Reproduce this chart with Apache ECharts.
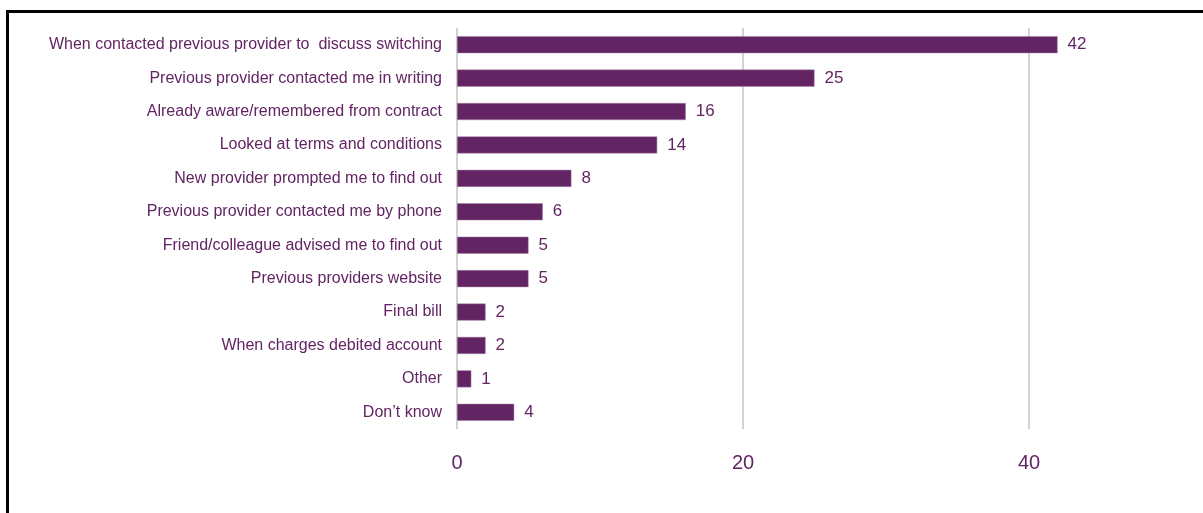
<!DOCTYPE html>
<html>
<head>
<meta charset="utf-8">
<style>
  html, body { margin: 0; padding: 0; background: #fff; overflow: hidden; }
  #frame { position: absolute; left: 6px; top: 10px; width: 1400px; height: 700px; border: 3px solid #000; box-sizing: border-box; }
  #chart { position: absolute; left: 0; top: 0; width: 1203px; height: 513px; }
</style>
<script src="https://cdn.jsdelivr.net/npm/echarts@6/dist/echarts.min.js"></script>
</head>
<body>
<div id="frame"></div>
<div id="chart"></div>
<script>
// Ways respondents found out about switching terms (%)
const categories = [
  'When contacted previous provider to  discuss switching',
  'Previous provider contacted me in writing',
  'Already aware/remembered from contract',
  'Looked at terms and conditions',
  'New provider prompted me to find out',
  'Previous provider contacted me by phone',
  'Friend/colleague advised me to find out',
  'Previous providers website',
  'Final bill',
  'When charges debited account',
  'Other',
  'Don\u2019t know'
];
const values = [42, 25, 16, 14, 8, 6, 5, 5, 2, 2, 1, 4];
const axisTicks = [0, 20, 40];

const purple = '#622463';
const chart = echarts.init(document.getElementById('chart'), null, { renderer: 'canvas' });

chart.setOption({
  backgroundColor: 'transparent',
  animation: false,
  grid: { left: 457, top: 28, width: 715, height: 401, containLabel: false },
  xAxis: {
    type: 'value',
    min: 0,
    max: 50,
    interval: 20,
    axisLine: { show: false },
    axisTick: { show: false },
    splitLine: { show: true, showMaxLine: false, lineStyle: { color: '#d3d3d3', width: 2 } },
    axisLabel: {
      showMaxLabel: false,
      margin: 24,
      color: purple,
      fontSize: 20,
      fontFamily: 'Liberation Sans, Arial, sans-serif',
      formatter: v => (axisTicks.indexOf(v) >= 0 ? String(v) : '')
    }
  },
  yAxis: {
    type: 'category',
    inverse: true,
    data: categories,
    axisLine: { show: false },
    axisTick: { show: false },
    splitLine: { show: false },
    axisLabel: {
      margin: 15,
      color: purple,
      fontSize: 16,
      fontFamily: 'Liberation Sans, Arial, sans-serif'
    }
  },
  series: [{
    type: 'bar',
    data: values,
    barCategoryGap: '49%',
    itemStyle: { color: purple, borderColor: '#a985a8', borderWidth: 0.5 },
    label: {
      show: true,
      position: 'right',
      distance: 10,
      color: purple,
      fontSize: 17,
      fontFamily: 'Liberation Sans, Arial, sans-serif'
    }
  }]
});
</script>
</body>
</html>
